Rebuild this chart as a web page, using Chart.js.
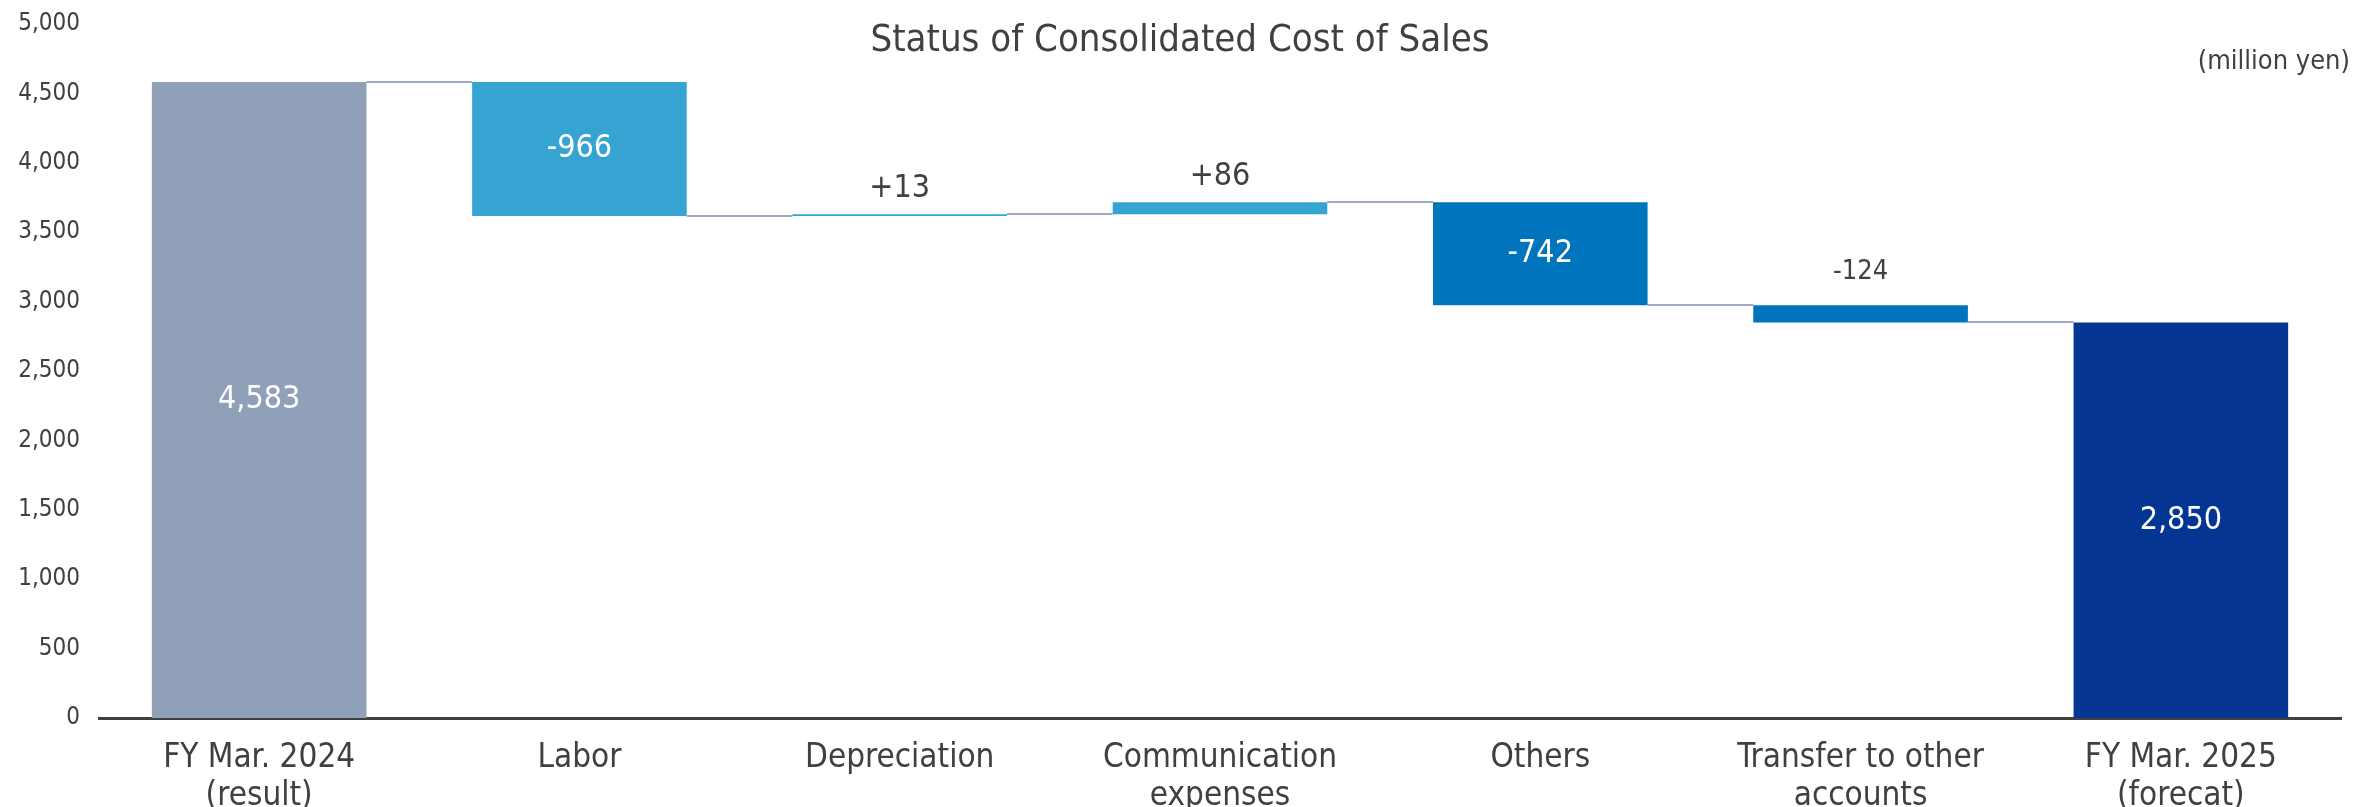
<!DOCTYPE html>
<html><head><meta charset="utf-8">
<script src="https://cdn.jsdelivr.net/npm/chart.js@4"></script>
<style>html,body{margin:0;padding:0;background:#fff;}#wrap{width:2379px;height:807px;}</style>
</head><body><div id="wrap"><canvas id="c" width="2379" height="807"></canvas></div>
<script>
const categories = [["FY Mar. 2024","(result)"], "Labor", "Depreciation", ["Communication","expenses"], "Others", ["Transfer to other","accounts"], ["FY Mar. 2025","(forecat)"]];
const startValue = 4583;
const changes = [-966, 13, 86, -742, -124];
const endValue = 2850;
const valueLabels = ["4,583", "-966", "+13", "+86", "-742", "-124", "2,850"];
const yMin = 0, yMax = 5000, yStep = 500;
const titleText = "Status of Consolidated Cost of Sales";
const unitText = "(million yen)";

const barColors = ["#8FA0B8", "#35A4D2", "#35A4D2", "#35A4D2", "#0074BD", "#0074BD", "#043593"];
const FONT = "'Liberation Sans Narrow', 'DejaVu Sans Condensed', 'Liberation Sans', sans-serif";
const TEXT = "#404040";

// build floating bars
const floating = [[0, startValue]];
let run = startValue;
for (const d of changes) { floating.push([run, run + d]); run += d; }
floating.push([0, endValue]);
const levels = [startValue];
{ let r = startValue; for (const d of changes) { r += d; levels.push(r); } }

const connectorPlugin = {
  id: 'connectors',
  beforeDatasetsDraw(chart) {
    const meta = chart.getDatasetMeta(0);
    const y = chart.scales.y;
    const ctx = chart.ctx;
    ctx.save();
    ctx.strokeStyle = "#9DAAC2";
    ctx.lineWidth = 2;
    for (let i = 0; i < meta.data.length - 1; i++) {
      const a = meta.data[i], b = meta.data[i + 1];
      const py = Math.round(y.getPixelForValue(levels[i]));
      ctx.beginPath();
      ctx.moveTo(a.x + a.width / 2, py);
      ctx.lineTo(b.x - b.width / 2, py);
      ctx.stroke();
    }
    ctx.restore();
  }
};

const labelPlugin = {
  id: 'valueLabels',
  afterDatasetsDraw(chart) {
    const meta = chart.getDatasetMeta(0);
    const ctx = chart.ctx;
    ctx.save();
    ctx.textAlign = 'center';
    meta.data.forEach((bar, i) => {
      const top = Math.min(bar.y, bar.base), bot = Math.max(bar.y, bar.base);
      const h = bot - top;
      if (h > 60) {
        ctx.fillStyle = '#ffffff';
        ctx.font = `32px ${FONT}`;
        ctx.textBaseline = 'middle';
        ctx.fillText(valueLabels[i], bar.x, (top + bot) / 2);
      } else {
        ctx.fillStyle = TEXT;
        const small = i === 5;
        ctx.font = `${small ? 27 : 32}px ${FONT}`;
        ctx.textBaseline = 'alphabetic';
        ctx.fillText(valueLabels[i], bar.x, top - (small ? 26 : 17));
      }
    });
    // title & unit
    ctx.fillStyle = TEXT;
    ctx.textBaseline = 'middle';
    ctx.font = `38px ${FONT}`;
    ctx.textAlign = 'center';
    ctx.fillText(titleText, 1180, 41);
    ctx.font = `27px ${FONT}`;
    ctx.textAlign = 'right';
    ctx.fillText(unitText, 2350, 62);
    ctx.restore();
  }
};

new Chart(document.getElementById('c'), {
  type: 'bar',
  data: {
    labels: categories,
    datasets: [{
      data: floating,
      backgroundColor: barColors,
      borderWidth: 0,
      barPercentage: 0.67,
      categoryPercentage: 1.0
    }]
  },
  options: {
    responsive: false,
    animation: false,
    devicePixelRatio: 1,
    layout: { padding: { top: 24, right: 38, bottom: 0, left: 0 } },
    plugins: { legend: { display: false }, tooltip: { enabled: false }, title: { display: false } },
    scales: {
      x: {
        grid: { display: false },
        border: { display: true, color: '#404040', width: 3 },
        ticks: { color: TEXT, font: { family: FONT, size: 33, lineHeight: 1.16 }, padding: 13, maxRotation: 0, autoSkip: false },
        afterFit(s) { s.height = 89; s.paddingLeft = 0; s.paddingRight = 0; }
      },
      y: {
        min: yMin, max: yMax,
        grid: { display: false },
        border: { display: false },
        ticks: {
          stepSize: yStep, color: TEXT, padding: 11,
          font: { family: FONT, size: 24 },
          callback: v => v.toLocaleString('en-US')
        },
        afterFit(s) { s.width = 99; s.paddingTop = 0; s.paddingBottom = 0; }
      }
    }
  },
  plugins: [connectorPlugin, labelPlugin]
});
</script></body></html>
